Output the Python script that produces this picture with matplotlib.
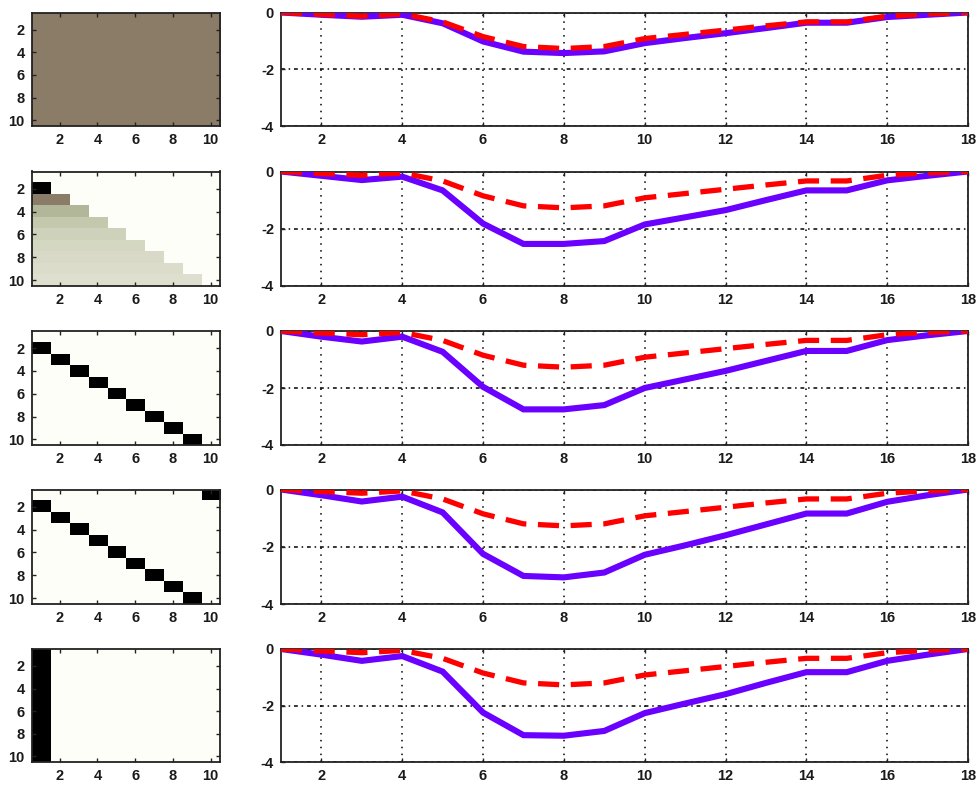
import matplotlib
matplotlib.use('Agg')
import matplotlib.pyplot as plt
from matplotlib.colors import LinearSegmentedColormap
import numpy as np


#NOTE Data Configuration
steps = list(range(1, 19))

reference = [0, -0.07, -0.13, -0.05, -0.33, -0.85, -1.20, -1.27, -1.20,
             -0.92, -0.77, -0.62, -0.47, -0.33, -0.33, -0.13, -0.05, 0]

response_1 = [0, -0.08, -0.15, -0.08, -0.38, -1.02, -1.38, -1.43, -1.37,
              -1.08, -0.90, -0.73, -0.55, -0.36, -0.36, -0.16, -0.08, 0]
response_2 = [0, -0.15, -0.30, -0.18, -0.66, -1.82, -2.53, -2.53, -2.43,
              -1.85, -1.60, -1.35, -1.00, -0.66, -0.66, -0.31, -0.15, 0]
response_3 = [0, -0.20, -0.37, -0.20, -0.73, -1.96, -2.75, -2.75, -2.60,
              -2.00, -1.70, -1.40, -1.05, -0.70, -0.70, -0.32, -0.15, 0]
response_4 = [0, -0.20, -0.42, -0.25, -0.80, -2.25, -3.02, -3.07, -2.90,
              -2.28, -1.95, -1.60, -1.22, -0.84, -0.84, -0.43, -0.20, 0]
response_5 = [0, -0.20, -0.42, -0.25, -0.80, -2.25, -3.05, -3.07, -2.90,
              -2.27, -1.93, -1.60, -1.20, -0.82, -0.82, -0.42, -0.20, 0]
responses = [response_1, response_2, response_3, response_4, response_5]

# 10x10 weight matrices, rows top to bottom
matrix_1 = [[0.1] * 10 for _ in range(10)]
tri_weights = [0, 1, 1/2, 1/3, 1/4, 1/5, 1/6, 1/7, 1/8, 1/9]
matrix_2 = [[tri_weights[r] if c < r else 0 for c in range(10)] for r in range(10)]
shift_cells = [(1, 0), (2, 1), (3, 2), (4, 3), (5, 4), (6, 5), (7, 6), (8, 7), (9, 8)]
matrix_3 = [[1 if (r, c) in shift_cells else 0 for c in range(10)] for r in range(10)]
matrix_4 = [[1 if (r, c) in shift_cells + [(0, 9)] else 0 for c in range(10)] for r in range(10)]
matrix_5 = [[1 if c == 0 else 0 for c in range(10)] for r in range(10)]
matrices = [matrix_1, matrix_2, matrix_3, matrix_4, matrix_5]


#NOTE Color Configuration
cmap = LinearSegmentedColormap.from_list('weights', [
    (0.00, '#FEFEF8'), (0.11, '#DEDFCE'), (0.20, '#CFD2BA'),
    (0.33, '#B4B99B'), (0.50, '#8C7D69'), (1.00, '#000000')])
blue = '#6A00FF'
red = '#FF0000'
axis_col = '#222222'


#NOTE Geometry Configuration
W, H = 980, 790
tops = [12.5, 171.5, 331, 489.5, 649]
bots = [126, 286, 445, 604, 762]
left_x = (31.5, 220)
right_x = (281, 968)
font = 'Liberation Sans'


fig = plt.figure(figsize=(W / 100, H / 100), dpi=100)
fig.patch.set_facecolor('white')


def style(ax):
    for s in ax.spines.values():
        s.set_color(axis_col)
        s.set_linewidth(1.3)
    ax.tick_params(direction='in', length=3, width=1, top=True, right=True,
                   labelsize=10.5, pad=5, colors=axis_col, labelcolor='#1a1a1a')
    for lab in ax.get_xticklabels() + ax.get_yticklabels():
        lab.set_fontname(font)
        lab.set_fontweight('bold')


for i in range(5):
    y0 = 1 - bots[i] / H
    h = (bots[i] - tops[i]) / H

    # matrix image
    axm = fig.add_axes([left_x[0] / W, y0, (left_x[1] - left_x[0]) / W, h])
    m = np.array(matrices[i], dtype=float)
    if m.max() == m.min():
        axm.imshow(m, cmap=cmap, vmin=m.min() - 1, vmax=m.max() + 1,
                   aspect='auto', extent=(0.5, 10.5, 10.5, 0.5), interpolation='nearest')
    else:
        axm.imshow(m, cmap=cmap, vmin=m.min(), vmax=m.max(),
                   aspect='auto', extent=(0.5, 10.5, 10.5, 0.5), interpolation='nearest')
    axm.set_xticks([2, 4, 6, 8, 10])
    axm.set_yticks([2, 4, 6, 8, 10])
    style(axm)

    # response curves
    axr = fig.add_axes([right_x[0] / W, y0, (right_x[1] - right_x[0]) / W, h])
    axr.plot(steps, responses[i], color=blue, linewidth=4.4, solid_joinstyle='miter', zorder=3)
    axr.plot(steps, reference, color=red, linewidth=3.8, dashes=(4.0, 2.2), zorder=4)
    axr.set_xlim(1, 18)
    axr.set_ylim(-4, 0)
    axr.set_xticks([2, 4, 6, 8, 10, 12, 14, 16, 18])
    axr.set_yticks([-4, -2, 0])
    axr.set_yticklabels(['-4', '-2', '0'])
    axr.xaxis.grid(True, color='black', linewidth=1.1, linestyle=(0, (1, 3.5)))
    axr.yaxis.grid(True, color='black', linewidth=1.1, linestyle=(0, (2.5, 2.5, 1, 2.5)))
    axr.set_axisbelow(True)
    style(axr)
    axr.tick_params(right=False, top=True)

fig.savefig('out.png', dpi=100, facecolor='white')
